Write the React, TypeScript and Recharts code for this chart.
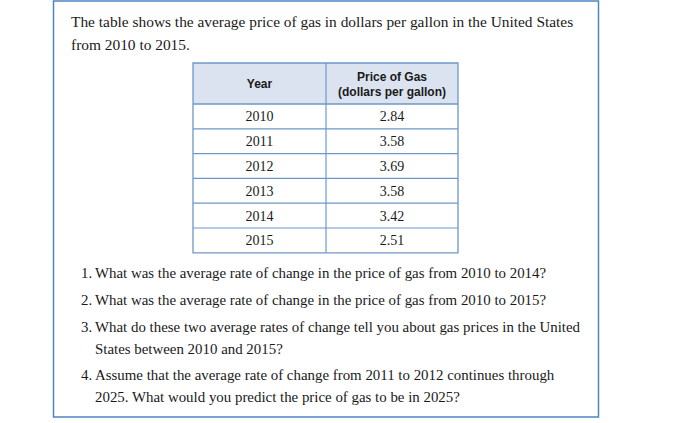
import React from 'react';
import { Surface, Layer, Rectangle, Text } from 'recharts';

// ---- data ----
const years = ['2010', '2011', '2012', '2013', '2014', '2015'];
const prices = ['2.84', '3.58', '3.69', '3.58', '3.42', '2.51'];
const headerYear = 'Year';
const headerPrice = ['Price of Gas', '(dollars per gallon)'];
const introLines = [
  'The table shows the average price of gas in dollars per gallon in the United States',
  'from 2010 to 2015.',
];
const questions: string[][] = [
  ['What was the average rate of change in the price of gas from 2010 to 2014?'],
  ['What was the average rate of change in the price of gas from 2010 to 2015?'],
  ['What do these two average rates of change tell you about gas prices in the United', 'States between 2010 and 2015?'],
  ['Assume that the average rate of change from 2011 to 2012 continues through', '2025. What would you predict the price of gas to be in 2025?'],
];

// ---- layout ----
const W = 691;
const H = 423;
const SERIF = '"Liberation Serif", "DejaVu Serif", serif';
const SANS = '"Liberation Sans", Arial, sans-serif';
const BLUE = '#4f85c0';
const GRID = '#6d98c8';
const HEAD_FILL = '#dae3ef';
const TEXT = '#1a1a1a';

const tbl = { x0: 193, x1: 326, x2: 458, top: 63, headH: 41, rowH: 24.8 };

export default function App() {
  const bodyTop = tbl.top + tbl.headH;
  const tblBottom = bodyTop + tbl.rowH * years.length;

  // question line positions
  let qy = 273;
  const qLines: { y: number; num: string | null; text: string }[] = [];
  questions.forEach((q, i) => {
    q.forEach((line, j) => {
      qLines.push({ y: qy, num: j === 0 ? `${i + 1}.` : null, text: line });
      qy += 22;
    });
    qy += 4.7;
  });

  return (
    <div style={{ position: 'absolute', left: 0, top: 0, width: W, height: H, background: '#fff' }}>
      <Surface width={W} height={H}>
        <Rectangle x={53.5} y={1} width={545} height={416} fill="none" stroke={BLUE} strokeWidth={1.5} />

        <Layer>
          {introLines.map((line, i) => (
            <Text key={i} x={71} y={22 + i * 23} verticalAnchor="middle" fontFamily={SERIF} fontSize={15.4} fill={TEXT}>
              {line}
            </Text>
          ))}
        </Layer>

        {/* table */}
        <Layer>
          <Rectangle x={tbl.x0} y={tbl.top} width={tbl.x2 - tbl.x0} height={tbl.headH} fill={HEAD_FILL} />
          <Text x={(tbl.x0 + tbl.x1) / 2} y={tbl.top + tbl.headH / 2} textAnchor="middle" verticalAnchor="middle"
            fontFamily={SANS} fontWeight="bold" fontSize={12} fill={TEXT}>
            {headerYear}
          </Text>
          {headerPrice.map((t, i) => (
            <Text key={i} x={(tbl.x1 + tbl.x2) / 2} y={tbl.top + 14 + i * 15} textAnchor="middle" verticalAnchor="middle"
              fontFamily={SANS} fontWeight="bold" fontSize={12} fill={TEXT}>
              {t}
            </Text>
          ))}
          {years.map((yr, i) => {
            const cy = bodyTop + tbl.rowH * (i + 0.5);
            return (
              <Layer key={yr}>
                <Text x={(tbl.x0 + tbl.x1) / 2} y={cy} textAnchor="middle" verticalAnchor="middle"
                  fontFamily={SERIF} fontSize={14} fill={TEXT}>
                  {yr}
                </Text>
                <Text x={(tbl.x1 + tbl.x2) / 2} y={cy} textAnchor="middle" verticalAnchor="middle"
                  fontFamily={SERIF} fontSize={14} fill={TEXT}>
                  {prices[i]}
                </Text>
              </Layer>
            );
          })}
          {/* grid lines */}
          {years.map((_, i) => {
            const y = bodyTop + tbl.rowH * i;
            return <line key={i} x1={tbl.x0} x2={tbl.x2} y1={y} y2={y} stroke={GRID} strokeWidth={i === 0 ? 1.5 : 1.2} />;
          })}
          <line x1={tbl.x1} x2={tbl.x1} y1={tbl.top} y2={tblBottom} stroke={GRID} strokeWidth={1.2} />
          <Rectangle x={tbl.x0} y={tbl.top} width={tbl.x2 - tbl.x0} height={tblBottom - tbl.top}
            fill="none" stroke={GRID} strokeWidth={1.3} />
        </Layer>

        {/* questions */}
        <Layer>
          {qLines.map((l, i) => (
            <Layer key={i}>
              {l.num && (
                <Text x={81} y={l.y} verticalAnchor="middle" fontFamily={SERIF} fontSize={14.9} fill={TEXT}>
                  {l.num}
                </Text>
              )}
              <Text x={95} y={l.y} verticalAnchor="middle" fontFamily={SERIF} fontSize={14.9} fill={TEXT}>
                {l.text}
              </Text>
            </Layer>
          ))}
        </Layer>
      </Surface>
    </div>
  );
}
